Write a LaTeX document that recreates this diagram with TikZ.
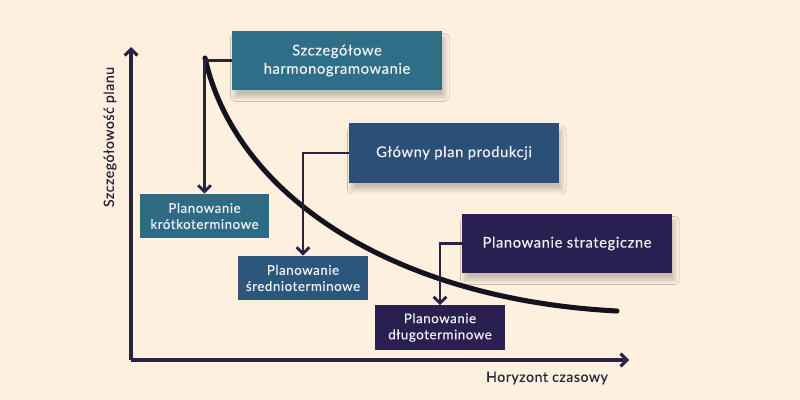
\documentclass[tikz,border=0pt]{standalone}
\usepackage{fontspec}
\setmainfont{Lato}[LetterSpace=4, FakeBold=0.35]
\usetikzlibrary{arrows.meta}
\usetikzlibrary{shadows.blur}
\definecolor{bgcream}{HTML}{FDF0DE}
\definecolor{lineink}{HTML}{2B2145}
\definecolor{curveink}{HTML}{15121F}
\definecolor{tealbox}{HTML}{2E6F87}
\definecolor{bluebox}{HTML}{2B4F76}
\definecolor{purplebox}{HTML}{2A2050}
\definecolor{tealsmall}{HTML}{2F6B85}
\definecolor{bluesmall}{HTML}{2C567B}
\definecolor{boxtext}{HTML}{EEF0F2}
\definecolor{labeltext}{HTML}{2A2238}
\tikzset{
    bigbox/.style={fill=#1, text=boxtext, minimum width=5.25cm, minimum height=1.48cm,
        inner sep=0pt, align=center, font=\fontsize{10.5}{13}\selectfont,
        blur shadow={shadow xshift=2pt, shadow yshift=-5pt, shadow blur steps=10, shadow blur radius=3pt, shadow opacity=22}},
    smallbox/.style={fill=#1, text=boxtext, minimum width=3.23cm, minimum height=1.1cm,
        inner sep=0pt, align=center, font=\fontsize{9.5}{11.5}\selectfont},
    link/.style={draw=lineink, line width=2.1pt, -{Straight Barb[length=4.5pt,width=9pt]}},
    axisline/.style={draw=lineink, line width=2.2pt, -{Straight Barb[length=4.5pt,width=9pt]}},
}

\begin{document}
\begin{tikzpicture}[x=0.025cm, y=-0.025cm]
    \fill[bgcream] (0,0) rectangle (800,400);
    \useasboundingbox (0,0) rectangle (800,400);

    % axes
    \coordinate (origin) at (131,360);
    \coordinate (ytip) at (131,47);
    \coordinate (xtip) at (629,360);
    \draw[axisline] (origin) -- (ytip);
    \draw[axisline] (origin) -- (xtip);
    \node[rotate=90, text=labeltext, font=\fontsize{10}{12}\selectfont] (ylabel) at (110,137) {Szczegółowość planu};
    \node[text=labeltext, font=\fontsize{10}{12}\selectfont] (xlabel) at (547,378) {Horyzont czasowy};

    % curve
    \draw[curveink, line width=3.6pt, line cap=round] (205,58) .. controls (237,200) and (400,300) .. (617,311);

    % boxes
    \node[bigbox=tealbox] (szczeg) at (337,60.5) {Szczegółowe\\harmonogramowanie};
    \node[bigbox=bluebox] (glowny) at (454,153) {Główny plan produkcji};
    \node[bigbox=purplebox] (strateg) at (567,243.5) {Planowanie strategiczne};
    \node[smallbox=tealsmall] (krotko) at (204.5,216) {Planowanie\\krótkoterminowe};
    \node[smallbox=bluesmall] (srednio) at (303,278) {Planowanie\\średnioterminowe};
    \node[smallbox=purplebox] (dlugo) at (440,327.5) {Planowanie\\długoterminowe};

    % connectors
    \draw[link] (szczeg.west) -| (krotko.north);
    \draw[link] (glowny.west) -| (srednio.north);
    \draw[link] (strateg.west) -| (dlugo.north);
\end{tikzpicture}
\end{document}
